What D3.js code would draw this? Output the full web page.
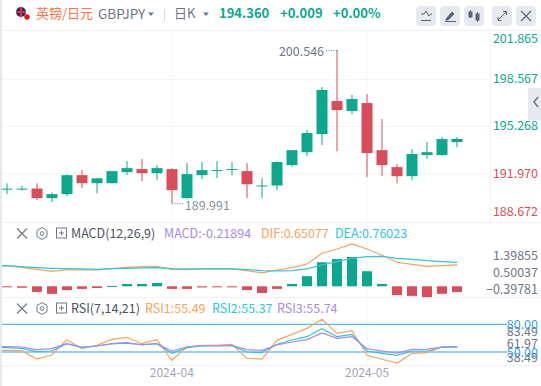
<!DOCTYPE html>
<html>
<head>
<meta charset="utf-8">
<script src="https://cdn.jsdelivr.net/npm/d3@7"></script>
<style>
html, body { margin: 0; padding: 0; background: #fff; overflow: hidden; }
text { font-family: "Noto Sans CJK SC", "Noto Sans", sans-serif; }
</style>
</head>
<body>
<div id="chart"></div>
<script>
// candles, oldest first
const opens  = [190.90,190.90,190.91,190.24,190.52,191.84,191.28,191.28,192.05,192.26,191.98,192.26,190.24,191.84,192.19,192.26,192.12,191.12,191.12,192.54,193.44,194.70,197.00,196.30,196.86,193.58,192.40,191.77,193.24,193.24,194.14];
const closes = [190.90,190.90,190.24,190.52,191.84,191.28,191.62,192.12,192.33,191.98,192.33,190.80,191.91,192.19,192.19,192.26,191.21,191.12,192.75,193.58,194.77,197.77,196.37,197.14,193.38,192.54,191.77,193.31,193.44,194.35,194.36];
const highs  = [191.28,191.10,191.28,190.63,191.91,192.19,191.62,192.12,192.82,192.96,192.54,192.33,192.68,192.75,192.82,192.75,192.68,191.63,192.82,192.54,194.98,197.97,200.546,197.42,197.49,195.74,192.61,193.65,194.14,194.49,194.49];
const lows   = [190.52,190.77,190.10,189.96,190.38,190.94,190.59,191.28,191.84,191.42,191.49,189.89,190.17,191.56,191.63,191.84,190.24,190.24,190.80,192.40,193.17,193.93,193.51,196.09,191.70,191.77,191.28,191.49,192.96,193.17,193.79];

const histValues = [-0.02,-0.05,-0.195,-0.26,-0.13,-0.09,-0.06,0.015,0.08,0.08,0.115,-0.09,-0.09,-0.04,-0.025,-0.025,-0.13,-0.23,-0.09,0.08,0.35,0.83,0.94,1.01,0.52,0.08,-0.30,-0.33,-0.37,-0.26,-0.195];
// line series carry one extra leading point, the bar before the first visible candle
const difValues = [0.72,0.70,0.655,0.586,0.517,0.563,0.563,0.563,0.609,0.655,0.678,0.69,0.586,0.575,0.598,0.598,0.598,0.54,0.46,0.563,0.644,0.77,1.138,1.287,1.46,1.287,1.069,0.828,0.759,0.69,0.713,0.736];
const deaValues = [0.72,0.713,0.678,0.644,0.621,0.609,0.598,0.586,0.609,0.621,0.632,0.644,0.609,0.598,0.598,0.598,0.598,0.575,0.54,0.529,0.54,0.598,0.736,0.851,0.966,1.023,1.034,0.966,0.931,0.885,0.851,0.828];

const rsi1Values = [52.0,51.8,51.4,42.4,46.8,63.0,54.0,57.2,63.7,65.9,59.0,63.7,41.0,55.4,57.2,57.2,58.3,43.1,42.4,62.6,69.1,75.6,85.4,70.2,73.1,46.4,42.1,38.1,48.6,49.3,55.4,55.49];
const rsi2Values = [54.9,54.7,54.0,50.4,51.1,59.0,54.7,56.5,59.0,60.1,57.6,59.0,48.6,54.7,56.5,56.9,56.9,50.0,49.3,58.3,63.0,66.6,75.3,66.6,69.1,51.1,48.6,46.4,51.1,51.1,55.4,55.37];
const rsi3Values = [55.8,55.8,55.4,52.5,53.6,59.0,55.4,56.5,58.7,59.7,57.9,59.0,51.1,55.4,56.9,56.9,57.2,52.5,51.8,57.6,60.8,63.4,70.6,64.8,66.6,53.6,51.1,48.9,52.9,53.2,55.4,55.74];
const rsiBands = [80, 50];

const priceTicks = [201.865,198.567,195.268,191.970,188.672];
const macdTicks = [1.39855,0.50037,-0.39781];
const rsiTicks = [83.49,61.97,38.49];
const dateTicks = [[11,'2024-04'],[24,'2024-05']];

const lastClose = 194.360;
const green = '#0aa88c', red = '#db4c5a', gridColor = '#f4f5f9';
const orange = '#f9a45c', cyan = '#2cc6df', purple = '#a98ae6', axisGray = '#6f7685';

const width = 541, height = 386, plotRight = 490;

let svg = d3.select('#chart').append('svg')
    .attr('width', width)
    .attr('height', height)
    .style('display', 'block');

let x = d3.scaleLinear().domain([0, 30]).range([6.6, 457.2]);
let y = d3.scaleLinear().domain([198.567, 195.268]).range([78.5, 125.9]);
let yMacd = d3.scaleLinear().domain([0, 1]).range([286.3, 257.3]);
let yMacdLabel = d3.scaleLinear().domain([-0.39781, 1.39855]).range([289.5, 255.5]);
let yRsi = d3.scaleLinear().domain([50, 80]).range([352, 324.3]);
let yRsiLabel = d3.scaleLinear().domain([38.49, 83.49]).range([357.7, 331]);

// left edge and panel borders
svg.append('rect').attr('x', 0).attr('y', 0).attr('width', 2).attr('height', height).attr('fill', '#e4e8f0');

let grid = svg.append('g').attr('stroke', gridColor);
grid.selectAll('line.v').data(dateTicks).enter().append('line')
    .attr('x1', d => x(d[0])).attr('x2', d => x(d[0]))
    .attr('y1', 30).attr('y2', 365);
grid.selectAll('line.h').data(priceTicks.slice(1, 4)).enter().append('line')
    .attr('x1', 2).attr('x2', plotRight)
    .attr('y1', d => Math.round(y(d)) + 0.5).attr('y2', d => Math.round(y(d)) + 0.5);

let borders = [[30.5, width], [222.5, width], [297.5, width], [365.5, width]];
svg.append('g').attr('stroke', '#eff0f4').selectAll('line').data(borders).enter().append('line')
    .attr('x1', 2).attr('x2', d => d[1])
    .attr('y1', d => d[0]).attr('y2', d => d[0]);
svg.append('line').attr('x1', 490.5).attr('x2', 490.5).attr('y1', 30).attr('y2', 222).attr('stroke', '#eff0f4');

// scroll tab on the price axis
svg.append('rect').attr('x', 528).attr('y', 88).attr('width', 13).attr('height', 32).attr('fill', '#e8e9f0');
svg.append('path').attr('d', 'M538 97l-4 5 4 5').attr('fill', 'none').attr('stroke', '#6f7685').attr('stroke-width', 1.5);

// candles
let candles = svg.append('g').selectAll('g').data(opens.map((o, i) => i)).enter().append('g')
    .attr('fill', i => closes[i] >= opens[i] ? green : red)
    .attr('stroke', 'none');
candles.append('rect')
    .attr('x', i => Math.round(x(i)) - 0.5)
    .attr('width', 1)
    .attr('y', i => y(highs[i]))
    .attr('height', i => y(lows[i]) - y(highs[i]));
candles.append('rect')
    .attr('x', i => Math.round(x(i)) - 5.5)
    .attr('width', 11)
    .attr('y', i => y(Math.max(opens[i], closes[i])))
    .attr('height', i => Math.max(1, y(Math.min(opens[i], closes[i])) - y(Math.max(opens[i], closes[i]))));

// high and low markers
svg.append('text').attr('x', x(22) - 13).attr('y', y(200.546) + 6)
    .attr('text-anchor', 'end').attr('font-size', 12.5).attr('fill', axisGray).text('200.546');
svg.append('line').attr('x1', x(22) - 11).attr('x2', x(22)).attr('y1', y(200.546) + 0.5).attr('y2', y(200.546) + 0.5)
    .attr('stroke', axisGray).attr('stroke-dasharray', '1,1.5');
svg.append('text').attr('x', x(11) + 13).attr('y', y(189.89) + 7)
    .attr('font-size', 12.5).attr('fill', '#8d92a0').text('189.991');
svg.append('line').attr('x1', x(11)).attr('x2', x(11) + 11).attr('y1', y(189.89) + 0.5).attr('y2', y(189.89) + 0.5)
    .attr('stroke', axisGray).attr('stroke-dasharray', '1,1.5');

// price axis, labels squeezed in at the panel ends
svg.append('g').selectAll('text').data(priceTicks).enter().append('text')
    .attr('x', 538).attr('text-anchor', 'end').attr('font-size', 12.5)
    .attr('y', d => Math.max(38, Math.min(211, y(d))) + 4.5)
    .attr('fill', d => d >= lastClose ? green : red)
    .text(d => d3.format('.3f')(d));

// macd panel
svg.append('g').selectAll('rect').data(histValues).enter().append('rect')
    .attr('x', (d, i) => Math.round(x(i)) - 5)
    .attr('width', 10)
    .attr('y', d => d >= 0 ? yMacd(d) : yMacd(0))
    .attr('height', d => Math.max(1, Math.abs(yMacd(d) - yMacd(0))))
    .attr('fill', d => d >= 0 ? green : red);

function drawLine(values, scale, color) {
    let line = d3.line().x((d, i) => x(i - 1)).y(d => scale(d));
    svg.append('path').datum(values)
        .attr('d', line)
        .attr('fill', 'none')
        .attr('stroke', color)
        .attr('stroke-width', 1.2)
        .attr('clip-path', 'url(#plotClip)');
}
svg.append('clipPath').attr('id', 'plotClip').append('rect')
    .attr('x', 2).attr('y', 30).attr('width', plotRight - 2).attr('height', 336);

drawLine(difValues, yMacd, orange);
drawLine(deaValues, yMacd, cyan);

svg.append('g').selectAll('text').data(macdTicks).enter().append('text')
    .attr('x', 538).attr('text-anchor', 'end').attr('font-size', 12.5)
    .attr('y', d => yMacdLabel(d) + 4.5).attr('fill', axisGray)
    .text(d => d3.format('.5f')(d));

// rsi panel
svg.append('g').selectAll('line').data(rsiBands).enter().append('line')
    .attr('x1', 2).attr('x2', 507)
    .attr('y1', d => yRsi(d)).attr('y2', d => yRsi(d))
    .attr('stroke', '#2f9fef').attr('stroke-width', 1);

drawLine(rsi1Values, yRsi, orange);
drawLine(rsi2Values, yRsi, cyan);
drawLine(rsi3Values, yRsi, purple);

svg.append('g').selectAll('text').data(rsiTicks).enter().append('text')
    .attr('x', 538).attr('text-anchor', 'end').attr('font-size', 12.5)
    .attr('y', d => yRsiLabel(d) + 4.5).attr('fill', axisGray)
    .text(d => d3.format('.2f')(d));
svg.append('g').selectAll('text').data(rsiBands).enter().append('text')
    .attr('x', 538).attr('text-anchor', 'end').attr('font-size', 12.5)
    .attr('y', d => yRsi(d) + 4.5).attr('fill', '#2f9fef')
    .text(d => d3.format('.2f')(d));

// date axis
svg.append('g').selectAll('text').data(dateTicks).enter().append('text')
    .attr('x', d => x(d[0])).attr('y', 377).attr('text-anchor', 'middle')
    .attr('font-size', 12).attr('fill', '#a3a7b3')
    .text(d => d[1]);

// header
function label(tx, ty, str, size, color, weight) {
    return svg.append('text').attr('x', tx).attr('y', ty).attr('font-size', size)
        .attr('fill', color).attr('font-weight', weight || 400).text(str);
}
let flag = svg.append('g');
flag.append('circle').attr('cx', 21).attr('cy', 12).attr('r', 5).attr('fill', '#2a2f63');
flag.append('path').attr('d', 'M16 12h10M21 7v10').attr('stroke', '#d9324a').attr('stroke-width', 2);
flag.append('circle').attr('cx', 27).attr('cy', 17).attr('r', 2.7).attr('fill', '#f40f12');

label(36, 18, '英镑/日元', 13, '#f5754a');
label(98, 19, 'GBPJPY', 13.5, axisGray);
svg.append('path').attr('d', 'M148 12.5h6l-3 3.5z').attr('fill', axisGray);
svg.append('line').attr('x1', 164.5).attr('x2', 164.5).attr('y1', 9).attr('y2', 21).attr('stroke', '#d7d9e0');
label(174, 18, '日K', 13, axisGray);
svg.append('path').attr('d', 'M203 12.5h6l-3 3.5z').attr('fill', axisGray);
label(219, 18, '194.360', 13, green, 700);
label(280, 18, '+0.009', 13, green, 700);
label(333, 18, '+0.00%', 13, green, 700);

// toolbar buttons
let buttons = [416, 440, 464, 492, 516];
svg.append('g').selectAll('rect').data(buttons).enter().append('rect')
    .attr('x', d => d).attr('y', 6).attr('width', 20).attr('height', 20).attr('rx', 4)
    .attr('fill', '#e7e9f1');
let icons = svg.append('g').attr('fill', 'none').attr('stroke', '#5d6474');
icons.append('path').attr('d', 'M421 14h3l2-3 3 5 2-2h1M421 20.5h10');
icons.append('path').attr('d', 'M446 19l6-7 2 2-6 6h-2zM445 21.5h11').attr('fill', '#5d6474');
icons.append('path').attr('d', 'M470.5 10v8M477.5 12v10');
icons.append('rect').attr('x', 469).attr('y', 12).attr('width', 3).attr('height', 5).attr('fill', '#5d6474');
icons.append('rect').attr('x', 476).attr('y', 14).attr('width', 3).attr('height', 6).attr('fill', '#5d6474');
icons.append('path').attr('d', 'M498 20l8-8M503 11.5h3.5v3.5M498 17v3.5h3.5');
icons.append('path').attr('d', 'M521 11l10 10M531 11l-10 10').attr('stroke-width', 1.2);

// sub panel headers
function panelIcons(cy) {
    let g = svg.append('g').attr('fill', 'none').attr('stroke', '#6f7685');
    g.append('path').attr('d', `M17 ${cy - 5}l10 10M27 ${cy - 5}l-10 10`).attr('stroke-width', 1.1);
    g.append('path').attr('d', `M42 ${cy - 6}l5 3v6l-5 3-5-3v-6z`);
    g.append('circle').attr('cx', 42).attr('cy', cy).attr('r', 1.8);
    g.append('rect').attr('x', 56.5).attr('y', cy - 5.5).attr('width', 10).attr('height', 10);
    g.append('path').attr('d', `M59 ${cy - 0.5}h5M61.5 ${cy - 3}v5`);
}
panelIcons(233.5);
label(71, 238, 'MACD(12,26,9)', 12.5, '#4d5362');
label(164, 238, 'MACD:-0.21894', 12.5, purple);
label(261, 238, 'DIF:0.65077', 12.5, orange);
label(335, 238, 'DEA:0.76023', 12.5, cyan);

panelIcons(308.5);
label(71, 313, 'RSI(7,14,21)', 12.5, '#4d5362');
label(145, 313, 'RSI1:55.49', 12.5, orange);
label(212, 313, 'RSI2:55.37', 12.5, cyan);
label(277, 313, 'RSI3:55.74', 12.5, purple);
</script>
</body>
</html>
